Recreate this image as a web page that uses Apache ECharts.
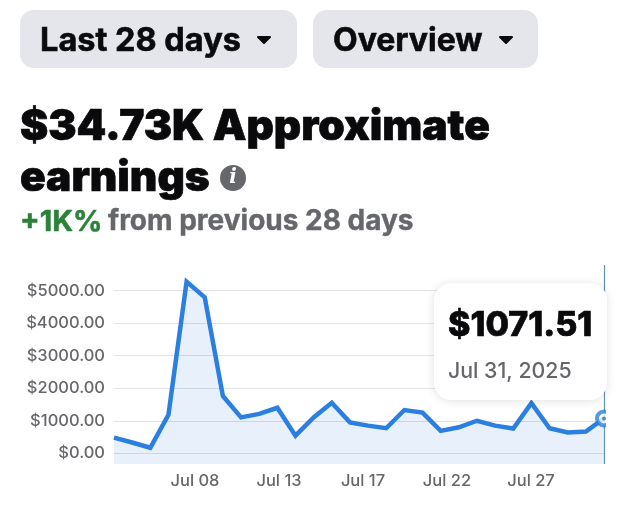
<!DOCTYPE html>
<html>
<head>
<meta charset="utf-8">
<style>
html, body { margin: 0; padding: 0; background: #fff; }
#chart { width: 640px; height: 527px; }
</style>
<script src="https://cdn.jsdelivr.net/npm/echarts@6/dist/echarts.min.js"></script>
</head>
<body>
<div id="chart"></div>
<script>
var days = ['Jul 04', 'Jul 05', 'Jul 06', 'Jul 07', 'Jul 08', 'Jul 09', 'Jul 10', 'Jul 11', 'Jul 12', 'Jul 13',
    'Jul 14', 'Jul 15', 'Jul 16', 'Jul 17', 'Jul 18', 'Jul 19', 'Jul 20', 'Jul 21', 'Jul 22', 'Jul 23',
    'Jul 24', 'Jul 25', 'Jul 26', 'Jul 27', 'Jul 28', 'Jul 29', 'Jul 30', 'Jul 31'];
var earnings = [480, 330, 170, 1180, 5280, 4795, 1760, 1105, 1210, 1400,
    540, 1100, 1555, 950, 850, 770, 1330, 1250, 690, 800,
    1000, 850, 760, 1540, 770, 640, 670, 1071.51];
var yTicks = [0, 1000, 2000, 3000, 4000, 5000];
var xLabels = ['', 'Jul 08', 'Jul 13', 'Jul 17', 'Jul 22', 'Jul 27', ''];
var rangeText = 'Last 28 days';
var viewText = 'Overview';
var titleLine1 = '$34.73K Approximate';
var titleLine2 = 'earnings';
var changeText = '+1K%';
var changeSuffix = 'from previous 28 days';
var tipValue = '$1071.51';
var tipDate = 'Jul 31, 2025';

var FONT = 'Inter, "Liberation Sans", sans-serif';
var chart = echarts.init(document.getElementById('chart'));

// stroke fattens the text a little, the installed Inter is lighter than the reference
function label(text, x, y, weight, size, fill, stroke) {
    return {
        type: 'text', z: 110,
        style: { text: text, x: x, y: y, fill: fill, verticalAlign: 'middle',
            stroke: stroke ? fill : null, lineWidth: stroke || 0,
            font: weight + ' ' + size + 'px ' + FONT }
    };
}
function button(x, w) {
    return { type: 'rect', shape: { x: x, y: 10, width: w, height: 58, r: 14 }, style: { fill: '#e4e6eb' } };
}
function caret(cx) {
    return {
        type: 'polygon',
        shape: { points: [[cx - 6, 37], [cx + 6, 37], [cx, 43]] },
        style: { fill: '#0b0b0d', stroke: '#0b0b0d', lineWidth: 2, lineJoin: 'round' }
    };
}

var option = {
    animation: false,
    backgroundColor: '#fff',
    grid: [
        { left: 114, right: 36, top: 265, height: 199 },
        { left: 111, width: 504, top: 265, height: 199 }
    ],
    xAxis: [
        { type: 'category', gridIndex: 0, data: days, boundaryGap: false, show: false },
        {
            type: 'category', gridIndex: 1, data: xLabels, boundaryGap: false,
            axisLine: { show: false }, axisTick: { show: false },
            axisLabel: { show: true, interval: 0, margin: 9, fontFamily: FONT, fontSize: 16.5, fontWeight: 500, color: '#65676b' }
        }
    ],
    yAxis: [
        {
            type: 'value', gridIndex: 0, min: -330, max: 5790,
            axisLine: { show: false },
            axisTick: { show: false, customValues: yTicks },
            axisLabel: {
                customValues: yTicks, margin: 9, fontFamily: FONT, fontSize: 16.5, fontWeight: 500, color: '#65676b',
                formatter: function (v) { return '$' + v.toFixed(2); }
            },
            splitLine: { show: true, lineStyle: { color: '#dfe2e8', width: 1.2 } }
        },
        { type: 'value', gridIndex: 1, show: false, splitLine: { show: false } }
    ],
    series: [
        {
            type: 'line',
            data: earnings,
            symbol: 'none',
            lineStyle: { color: '#2a7fe0', width: 4.5, join: 'miter' },
            areaStyle: { origin: 'start', color: 'rgba(42,127,224,0.16)' },
            markLine: {
                silent: true, symbol: 'none', label: { show: false },
                lineStyle: { color: '#5f93b0', width: 1.2, type: 'solid' },
                data: [{ xAxis: days[days.length - 1] }]
            }
        },
        {
            type: 'scatter', z: 5,
            data: [[days[days.length - 1], earnings[earnings.length - 1]]],
            symbolSize: 14,
            itemStyle: { color: '#fff', borderColor: '#2a7fe0', borderWidth: 4 }
        },
        {
            type: 'scatter', z: 6,
            data: [[days[days.length - 1], earnings[earnings.length - 1]]],
            symbolSize: 4,
            itemStyle: { color: '#3f6f96' }
        }
    ],
    graphic: [
        button(20, 277),
        button(313, 225),
        label(rangeText, 40, 41, 700, 32.5, '#0b0b0d', 0.6),
        caret(264),
        label(viewText, 333, 41, 700, 32, '#0b0b0d', 0.6),
        caret(506),
        label(titleLine1, 20, 127, 900, 42.4, '#0a0a0c', 0.7),
        label(titleLine2, 20, 178, 900, 42.4, '#0a0a0c', 0.7),
        { type: 'circle', shape: { cx: 233, cy: 178, r: 13 }, style: { fill: '#65676b' } },
        {
            type: 'text', z: 110,
            style: { text: 'i', x: 233, y: 178, fill: '#fff', align: 'center', verticalAlign: 'middle',
                font: 'italic 900 20px "DejaVu Serif", serif' }
        },
        label(changeText, 20, 222, 700, 29, '#2a8238', 0.5),
        label(changeSuffix, 108, 222, 700, 28, '#65676b', 0.4),
        // ring is cut off just right of the plot
        { type: 'rect', z: 90, shape: { x: 606, y: 400, width: 20, height: 40 }, style: { fill: '#fff' } },
        {
            type: 'rect', z: 100,
            shape: { x: 434, y: 283, width: 173, height: 117, r: 17 },
            style: { fill: '#fff', shadowBlur: 10, shadowColor: 'rgba(0,0,0,0.12)', shadowOffsetY: 1 }
        },
        label(tipValue, 448, 326, 800, 34, '#0a0a0c', 0.7),
        label(tipDate, 448, 371.5, 500, 21.3, '#65676b')
    ]
};
chart.setOption(option);
</script>
</body>
</html>
